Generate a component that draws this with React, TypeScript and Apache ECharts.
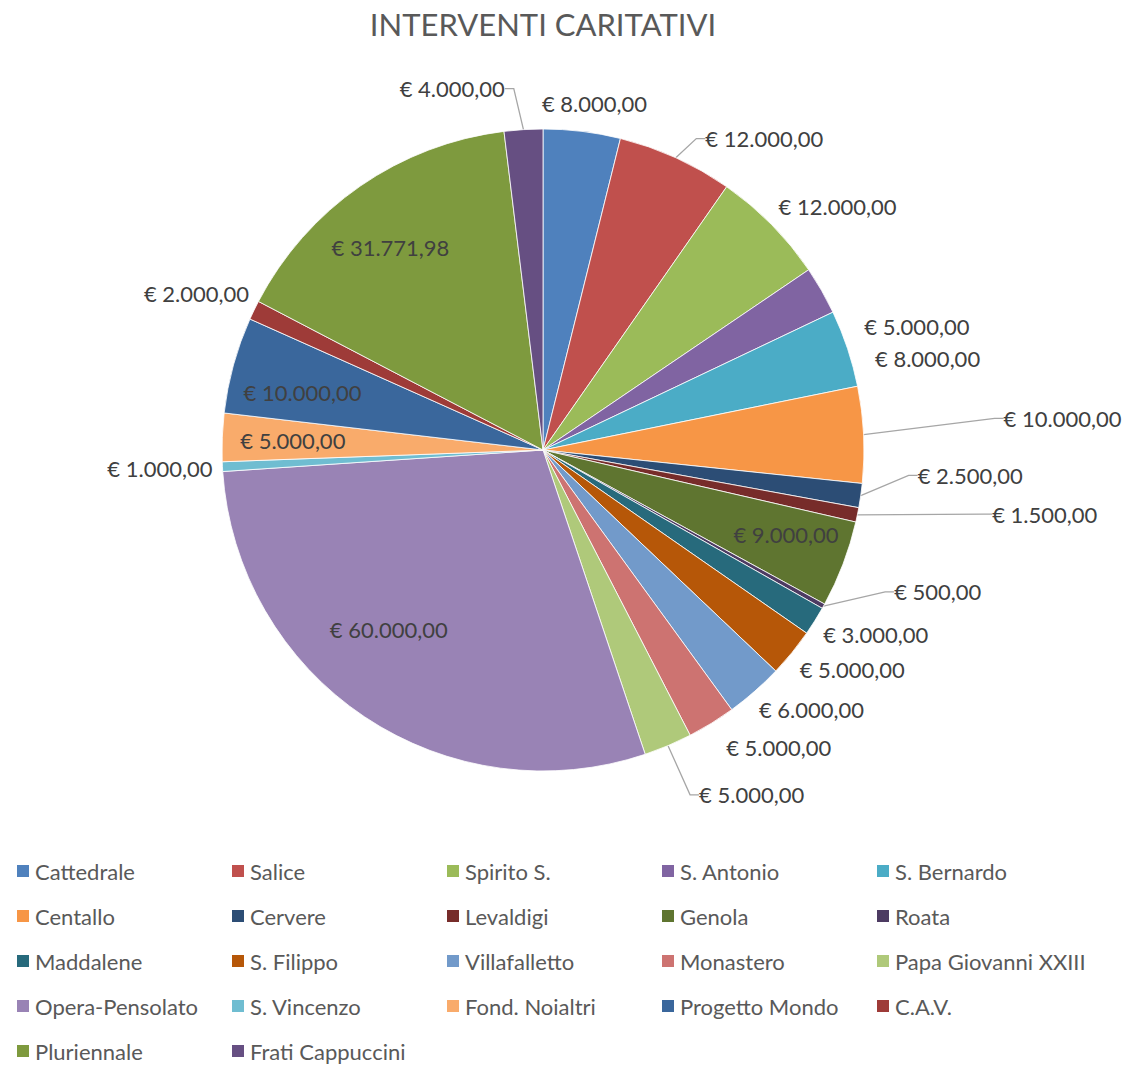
import React, { useEffect, useRef } from "react";
import * as echarts from "echarts";

// ---------- DATA ----------
const categories: string[] = [
  "Cattedrale", "Salice", "Spirito S.", "S. Antonio", "S. Bernardo",
  "Centallo", "Cervere", "Levaldigi", "Genola", "Roata",
  "Maddalene", "S. Filippo", "Villafalletto", "Monastero", "Papa Giovanni XXIII",
  "Opera-Pensolato", "S. Vincenzo", "Fond. Noialtri", "Progetto Mondo", "C.A.V.",
  "Pluriennale", "Frati Cappuccini",
];
const values: number[] = [
  8000, 12000, 12000, 5000, 8000,
  10000, 2500, 1500, 9000, 500,
  3000, 5000, 6000, 5000, 5000,
  60000, 1000, 5000, 10000, 2000,
  31771.98, 4000,
];
const titleText = "INTERVENTI CARITATIVI";

// ---------- STYLE ----------
const colors: string[] = [
  "#4F81BD", "#C0504D", "#9BBB59", "#8064A2", "#4BACC6",
  "#F79646", "#2C4D75", "#772C2A", "#5F7530", "#4D3B62",
  "#276A7C", "#B65708", "#729ACA", "#CD7371", "#AFC97A",
  "#9983B5", "#6FBDD1", "#F9AB6B", "#3A679C", "#9E3B38",
  "#7E9A3E", "#664F82",
];
const insideLabels = new Set(["Genola", "Opera-Pensolato", "Fond. Noialtri", "Progetto Mondo", "Pluriennale"]);
const leaderLines = new Set(["Frati Cappuccini", "Salice", "Centallo", "Cervere", "Levaldigi", "Roata", "Papa Giovanni XXIII"]);
// extra label displacement (like Excel's best-fit moves), in px
const labelOffset: Record<string, [number, number]> = {
  "Frati Cappuccini": [-66, -20],
  "Cattedrale": [2, -7],
  "Salice": [49, 1],
  "S. Antonio": [34, 49],
  "S. Bernardo": [18, 18],
  "Centallo": [130, -15],
  "Cervere": [47, -24],
  "Levaldigi": [125, -6],
  "Genola": [9, -5],
  "Roata": [62, -27],
  "Monastero": [22, 5],
  "Papa Giovanni XXIII": [50, 29],
  "Opera-Pensolato": [-15, -29],
  "Progetto Mondo": [1, 9],
  "C.A.V.": [4, -5],
  "Pluriennale": [-10, 3],
};
const CX = 543;
const CY = 450;
const R = 321;
const GAP = 10;
const INSIDE_RATIO = 0.78;
const FONT = "Lato, 'Noto Sans', sans-serif";

function euro(v: number): string {
  const [i, d] = v.toFixed(2).split(".");
  const g = i.replace(/\B(?=(\d{3})+(?!\d))/g, ".");
  return "€ " + g + "," + d;
}

const total = values.reduce((a, b) => a + b, 0);
const midAngles: number[] = (() => {
  let acc = 0;
  return values.map((v) => {
    const a0 = acc;
    acc += v;
    return ((a0 + v / 2) / total) * Math.PI * 2;
  });
})();

export default function App() {
  const ref = useRef<HTMLDivElement>(null);
  useEffect(() => {
    if (!ref.current) return;
    const chart = echarts.init(ref.current, undefined, { renderer: "svg" });
    const clamp = (v: number) => Math.max(-1, Math.min(1, v * 1.45));
    const legends = [0, 1, 2, 3, 4].map((c) => ({
      orient: "vertical",
      left: 15 + c * 215,
      top: 848.5,
      height: 260,
      padding: 0,
      itemWidth: 14,
      itemHeight: 14,
      itemGap: 0,
      icon: "rect",
      selectedMode: false,
      textStyle: { fontFamily: FONT, fontSize: 22, color: "#595959", lineHeight: 45 },
      data: categories.filter((_, i) => i % 5 === c),
    }));
    const option: any = {
      animation: false,
      backgroundColor: "#ffffff",
      title: {
        text: titleText,
        left: CX,
        top: 8,
        padding: 0,
        textAlign: "center",
        textStyle: { fontFamily: FONT, fontSize: 31, fontWeight: "normal", color: "#595959" },
      },
      legend: legends,
      series: [
        {
          type: "pie",
          center: [CX, CY],
          radius: R,
          startAngle: 90,
          clockwise: true,
          avoidLabelOverlap: false,
          emphasis: { disabled: true },
          itemStyle: { borderColor: "#ffffff", borderWidth: 0.8 },
          label: {
            show: true,
            position: "outside",
            formatter: (p: any) => euro(p.value),
            fontFamily: FONT,
            fontSize: 22,
            color: "#404040",
          },
          labelLine: {
            show: true,
            length: 10,
            length2: 9,
            lineStyle: { color: "#A6A6A6", width: 1.3 },
          },
          labelLayout: (params: any) => {
            const i = params.dataIndex;
            const name = categories[i];
            const a = midAngles[i];
            const sx = Math.sin(a);
            const sy = -Math.cos(a);
            const off = labelOffset[name] || [0, 0];
            if (insideLabels.has(name)) {
              return {
                x: CX + sx * R * INSIDE_RATIO + off[0],
                y: CY + sy * R * INSIDE_RATIO + off[1],
                align: "center",
                verticalAlign: "middle",
              };
            }
            const w = params.labelRect.width;
            const h = params.labelRect.height;
            const px = CX + sx * (R + GAP);
            const py = CY + sy * (R + GAP);
            return {
              x: px + clamp(sx) * w / 2 + off[0],
              y: py + clamp(sy) * h / 2 + off[1],
              align: "center",
              verticalAlign: "middle",
            };
          },
          data: categories.map((name, i) => ({
            name,
            value: values[i],
            itemStyle: { color: colors[i] },
            label: insideLabels.has(name) ? { position: "inside" } : { position: "outside" },
            labelLine: { show: leaderLines.has(name) },
          })),
        },
      ],
    };
    chart.setOption(option);
    return () => chart.dispose();
  }, []);
  return (
    <div
      ref={ref}
      style={{ position: "absolute", left: 0, top: 0, width: 1131, height: 1066, background: "#fff" }}
    />
  );
}
